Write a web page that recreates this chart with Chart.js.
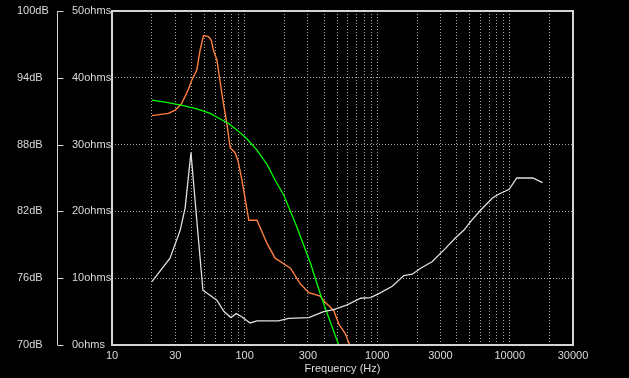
<!DOCTYPE html>
<html>
<head>
<meta charset="utf-8">
<script src="https://cdn.jsdelivr.net/npm/chart.js@4.4.0/dist/chart.umd.min.js"></script>
<style>
  html, body { margin: 0; padding: 0; background: #000; overflow: hidden; }
  canvas { display: block; }
</style>
</head>
<body>
<canvas id="freqChart" width="629" height="378"></canvas>
<script>
// tick values
const xMajor = [10, 30, 100, 300, 1000, 3000, 10000, 30000];
const xGrid = [10, 20, 30, 40, 50, 60, 70, 80, 90,
    100, 200, 300, 400, 500, 600, 700, 800, 900,
    1000, 2000, 3000, 4000, 5000, 6000, 7000, 8000, 9000,
    10000, 20000, 30000];

// SPL response (dB)
const splFreq = [20, 26.6, 30, 33.6, 37.8, 40, 43.6, 46.2, 49, 53.4, 56, 58.2, 61.8, 65.5, 68.6,
    72.8, 75.9, 78, 84.5, 89, 95.5, 107.6, 124, 148, 170, 197, 222, 263, 305, 372, 400, 470, 513, 576, 611, 620];
const splDb = [90.6, 90.8, 91.1, 91.7, 93.0, 93.8, 94.7, 96.5, 97.8, 97.7, 97.4, 96.5, 95.6, 93.6, 92.0,
    90.2, 88.7, 87.7, 87.3, 86.6, 84.8, 81.2, 81.2, 79.1, 77.8, 77.3, 76.9, 75.5, 74.7, 74.4, 73.9, 73.1, 71.9, 71.0, 70.2, 70.0];

// model / target response (dB)
const modelFreq = [20, 25.9, 34.5, 43.7, 55, 65.5, 75.9, 87.7, 104.5, 124, 148, 170, 197, 248, 315, 372, 430, 513];
const modelDb = [92.0, 91.8, 91.5, 91.2, 90.8, 90.3, 89.9, 89.3, 88.5, 87.5, 86.2, 84.8, 83.5, 80.6, 77.3, 74.6, 72.5, 70.0];

// impedance (ohms)
const impFreq = [20, 27.4, 32.7, 35.6, 39.4, 43.6, 48.5, 61.8, 70, 78.9, 86.6, 95.6, 110, 124, 180, 215, 305, 395, 470,
    594, 750, 890, 1030, 1300, 1590, 1840, 2130, 2610, 3290, 3920, 4520, 5080, 6040, 7410, 8320, 9900, 11300, 14900, 17700];
const impOhms = [9.5, 13.0, 17.2, 20.5, 28.8, 18.7, 8.2, 6.7, 5.0, 4.1, 4.7, 4.2, 3.3, 3.6, 3.6, 4.0, 4.1, 5.0, 5.3,
    6.0, 7.0, 7.1, 7.7, 8.8, 10.4, 10.6, 11.5, 12.5, 14.5, 16.1, 17.2, 18.5, 20.2, 22.0, 22.6, 23.3, 25.0, 25.0, 24.3];

const txt = '#dcdcdc';
const dots = '#a8a8a8';

function pts(xs, ys) {
    return xs.map((x, i) => ({x: x, y: ys[i]}));
}

Chart.defaults.font.family = 'Liberation Sans';
Chart.defaults.font.size = 11;
Chart.defaults.color = txt;

const frame = {
    id: 'frame',
    afterDraw(chart) {
        const c = chart.ctx, a = chart.chartArea;
        const db = chart.scales.yDb;
        c.save();
        c.strokeStyle = '#d4d4d4';
        c.lineWidth = 2;
        c.strokeRect(a.left, a.top, a.right - a.left, a.bottom - a.top);
        // bracket for dB axis
        const bx = db.left + 40.5;
        c.lineWidth = 1;
        c.beginPath();
        c.moveTo(bx, a.top);
        c.lineTo(bx, a.bottom);
        db.ticks.forEach(t => {
            const y = Math.round(db.getPixelForValue(t.value)) + 0.5;
            c.moveTo(bx, y);
            c.lineTo(bx + 6, y);
        });
        c.stroke();
        c.restore();
    }
};

new Chart(document.getElementById('freqChart'), {
    type: 'scatter',
    data: {
        datasets: [
            {
                data: pts(impFreq, impOhms), yAxisID: 'yOhm',
                showLine: true, borderColor: '#e0e0e0', borderWidth: 1.3, pointRadius: 0
            },
            {
                data: pts(modelFreq, modelDb), yAxisID: 'yDb',
                showLine: true, borderColor: '#00ff00', borderWidth: 1.3, pointRadius: 0
            },
            {
                data: pts(splFreq, splDb), yAxisID: 'yDb',
                showLine: true, borderColor: '#ff8040', borderWidth: 1.4, pointRadius: 0
            }
        ]
    },
    options: {
        responsive: false,
        animation: false,
        layout: { padding: { left: 17, right: 56, top: 11, bottom: 0 } },
        plugins: { legend: { display: false }, tooltip: { enabled: false } },
        scales: {
            x: {
                type: 'logarithmic',
                min: 10,
                max: 30000,
                afterBuildTicks: s => { s.ticks = xGrid.map(v => ({value: v})); },
                afterFit: s => { s.height = 33; },
                grid: { color: dots, lineWidth: 1, drawTicks: false },
                border: { display: false, dash: [1, 2] },
                ticks: {
                    autoSkip: false, maxRotation: 0, padding: 4,
                    callback: v => xMajor.includes(v) ? String(v) : ''
                },
                title: { display: true, text: 'Frequency (Hz)', padding: { top: 0, bottom: 2 } }
            },
            yOhm: {
                position: 'left', weight: 1,
                min: 0, max: 50,
                afterFit: s => { s.width = 40; },
                grid: { color: dots, drawTicks: false },
                border: { display: false, dash: [1, 2] },
                ticks: { stepSize: 10, crossAlign: 'far', padding: 3, callback: v => v + 'ohms' }
            },
            yDb: {
                position: 'left', weight: 2,
                min: 70, max: 100,
                afterFit: s => { s.width = 55; },
                grid: { display: false, drawTicks: false },
                border: { display: false },
                ticks: { stepSize: 6, crossAlign: 'far', padding: 3, callback: v => v + 'dB' }
            }
        }
    },
    plugins: [frame]
});
</script>
</body>
</html>
